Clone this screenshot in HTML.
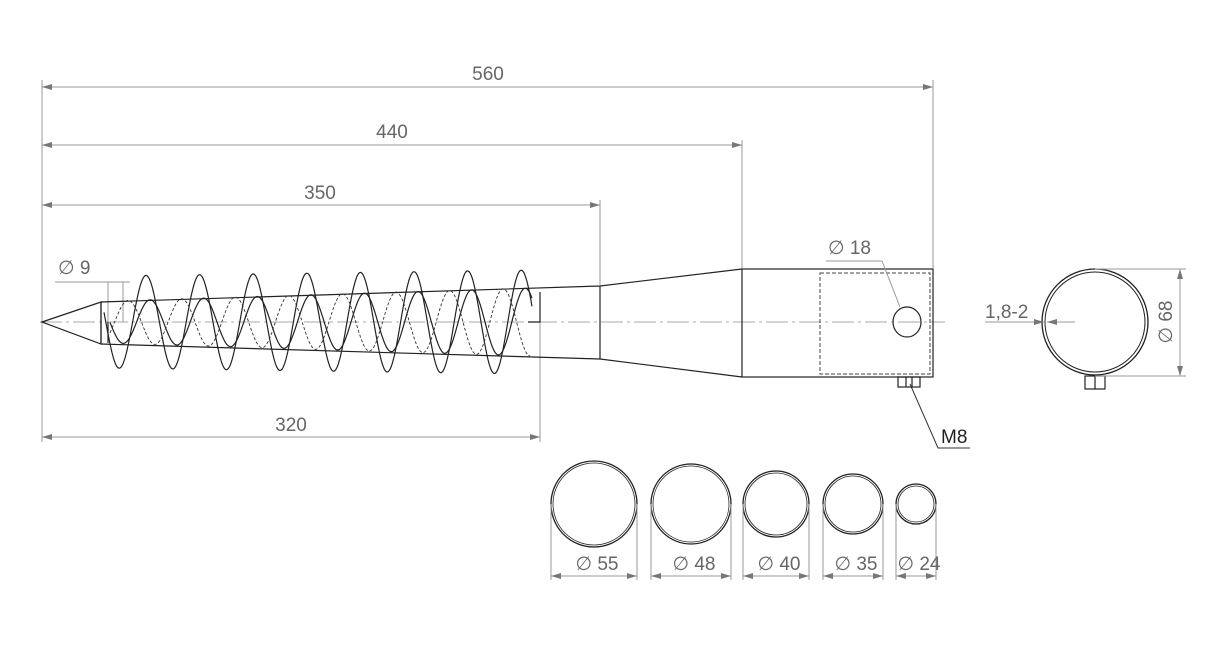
<!DOCTYPE html>
<html><head><meta charset="utf-8"><style>
html,body{margin:0;padding:0;background:#fff;}
svg{display:block;font-family:"Liberation Sans","DejaVu Sans",sans-serif;}
.d{stroke:#999;stroke-width:1;fill:none}
.t{fill:#666;font-size:19px}
.k{stroke:#222;fill:none;stroke-width:1.2}
</style></head><body>
<svg id="s" width="1225" height="651" viewBox="0 0 1225 651" xmlns="http://www.w3.org/2000/svg">
<defs>
<marker id="a" viewBox="0 0 10 6" refX="10" refY="3" markerWidth="10" markerHeight="6" orient="auto-start-reverse"><path d="M0,0 L10,3 L0,6 z" fill="#777"/></marker>
</defs>
<path class="d" d="M42,80V442 M933,80V268 M742,140V268 M600,200V285 M540,318V442"/>
<line class="d" x1="42" y1="87" x2="933" y2="87" marker-start="url(#a)" marker-end="url(#a)"/>
<text class="t" x="488" y="80" text-anchor="middle">560</text>
<line class="d" x1="42" y1="145" x2="742" y2="145" marker-start="url(#a)" marker-end="url(#a)"/>
<text class="t" x="392" y="138" text-anchor="middle">440</text>
<line class="d" x1="42" y1="205" x2="600" y2="205" marker-start="url(#a)" marker-end="url(#a)"/>
<text class="t" x="320" y="199" text-anchor="middle">350</text>
<line class="d" x1="42" y1="437" x2="540" y2="437" marker-start="url(#a)" marker-end="url(#a)"/>
<text class="t" x="291" y="431" text-anchor="middle">320</text>
<line x1="40" y1="322" x2="945" y2="322" stroke="#aaa" stroke-width="1" stroke-dasharray="22,4,3,4"/>
<text class="t" x="58" y="274">∅ 9</text>
<path class="d" d="M55,282H130 M108,282V322 M123,282V322"/>
<path class="k" d="M42,322 L101,302 L101,344 Z"/>
<path class="k" d="M101,302 L600,286 L742,269 M101,344 L600,359 L742,377 M600,286V359"/>
<rect class="k" x="742" y="269" width="191" height="108"/>
<rect x="820" y="273" width="110" height="101" fill="none" stroke="#444" stroke-width="1" stroke-dasharray="4,2"/>
<ellipse class="k" cx="907" cy="322" rx="14" ry="15"/>
<rect class="k" x="898" y="377" width="22" height="10"/>
<path class="k" d="M906,377V387 M912,377V387" stroke-width="0.8"/>
<text class="t" x="828" y="254">∅ 18</text>
<path class="d" d="M826,261H882 L900,307"/>
<path stroke="#333" fill="none" d="M910,384 L938,448 H970"/>
<text x="941" y="443" font-size="19" fill="#222">M8</text>
<path id="sp1" class="k" stroke-width="2.2"/>
<path id="sp2" class="k" stroke-width="1"/>
<path id="sp3" stroke="#333" fill="none" stroke-width="0.9" stroke-dasharray="3,2"/>
<path class="k" d="M101,302 V344 M108,322 V343 M528,322 H540 V292"/>
<circle cx="1095" cy="322" r="53" fill="none" stroke="#222" stroke-width="1.3"/>
<circle cx="1095" cy="322" r="50" fill="none" stroke="#222" stroke-width="1"/>
<rect class="k" x="1085" y="376" width="20" height="13"/>
<line class="k" x1="1095" y1="376" x2="1095" y2="389"/>
<path class="d" d="M1095,269H1186 M1095,376H1186"/>
<line class="d" x1="1180" y1="269" x2="1180" y2="376" marker-start="url(#a)" marker-end="url(#a)"/>
<text class="t" transform="translate(1172,322) rotate(-90)" text-anchor="middle">∅ 68</text>
<text class="t" x="985" y="318">1,8-2</text>
<line class="d" x1="985" y1="322" x2="1044" y2="322" marker-end="url(#a)"/>
<line class="d" x1="1075" y1="322" x2="1047" y2="322" marker-end="url(#a)"/>
<g id="bc"></g>
</svg>
<script>
function sine(x0,x1,A0,A1,ph){let d='';for(let x=x0;x<=x1;x+=1){const A=A0+(A1-A0)*(x-x0)/(x1-x0);const y=322-A*Math.cos(2*Math.PI*(x-ph)/53.6);d+=(d?'L':'M')+x+','+y.toFixed(1);}return d;}
document.getElementById('sp1').setAttribute('d',sine(104,532,46,52,146));
document.getElementById('sp2').setAttribute('d',sine(110,532,21,34,150));
document.getElementById('sp3').setAttribute('d',sine(110,530,21,34,128));
const C=[[594,43,'55'],[691,40,'48'],[776,33,'40'],[853,30,'35'],[916,20,'24']];
let h='';
for(const[c,r,t]of C){
h+=`<circle cx="${c}" cy="504" r="${r}" fill="none" stroke="#222" stroke-width="1.3"/><circle cx="${c}" cy="504" r="${r-2}" fill="none" stroke="#222" stroke-width="0.8"/>`;
h+=`<path class="d" d="M${c-r},504V580 M${c+r},504V580"/>`;
h+=`<line class="d" x1="${c-r}" y1="576" x2="${c+r}" y2="576" marker-start="url(#a)" marker-end="url(#a)"/>`;
h+=`<text class="t" x="${c+3}" y="570" text-anchor="middle">∅ ${t}</text>`;
}
document.getElementById('bc').innerHTML=h;
</script>
</body></html>
